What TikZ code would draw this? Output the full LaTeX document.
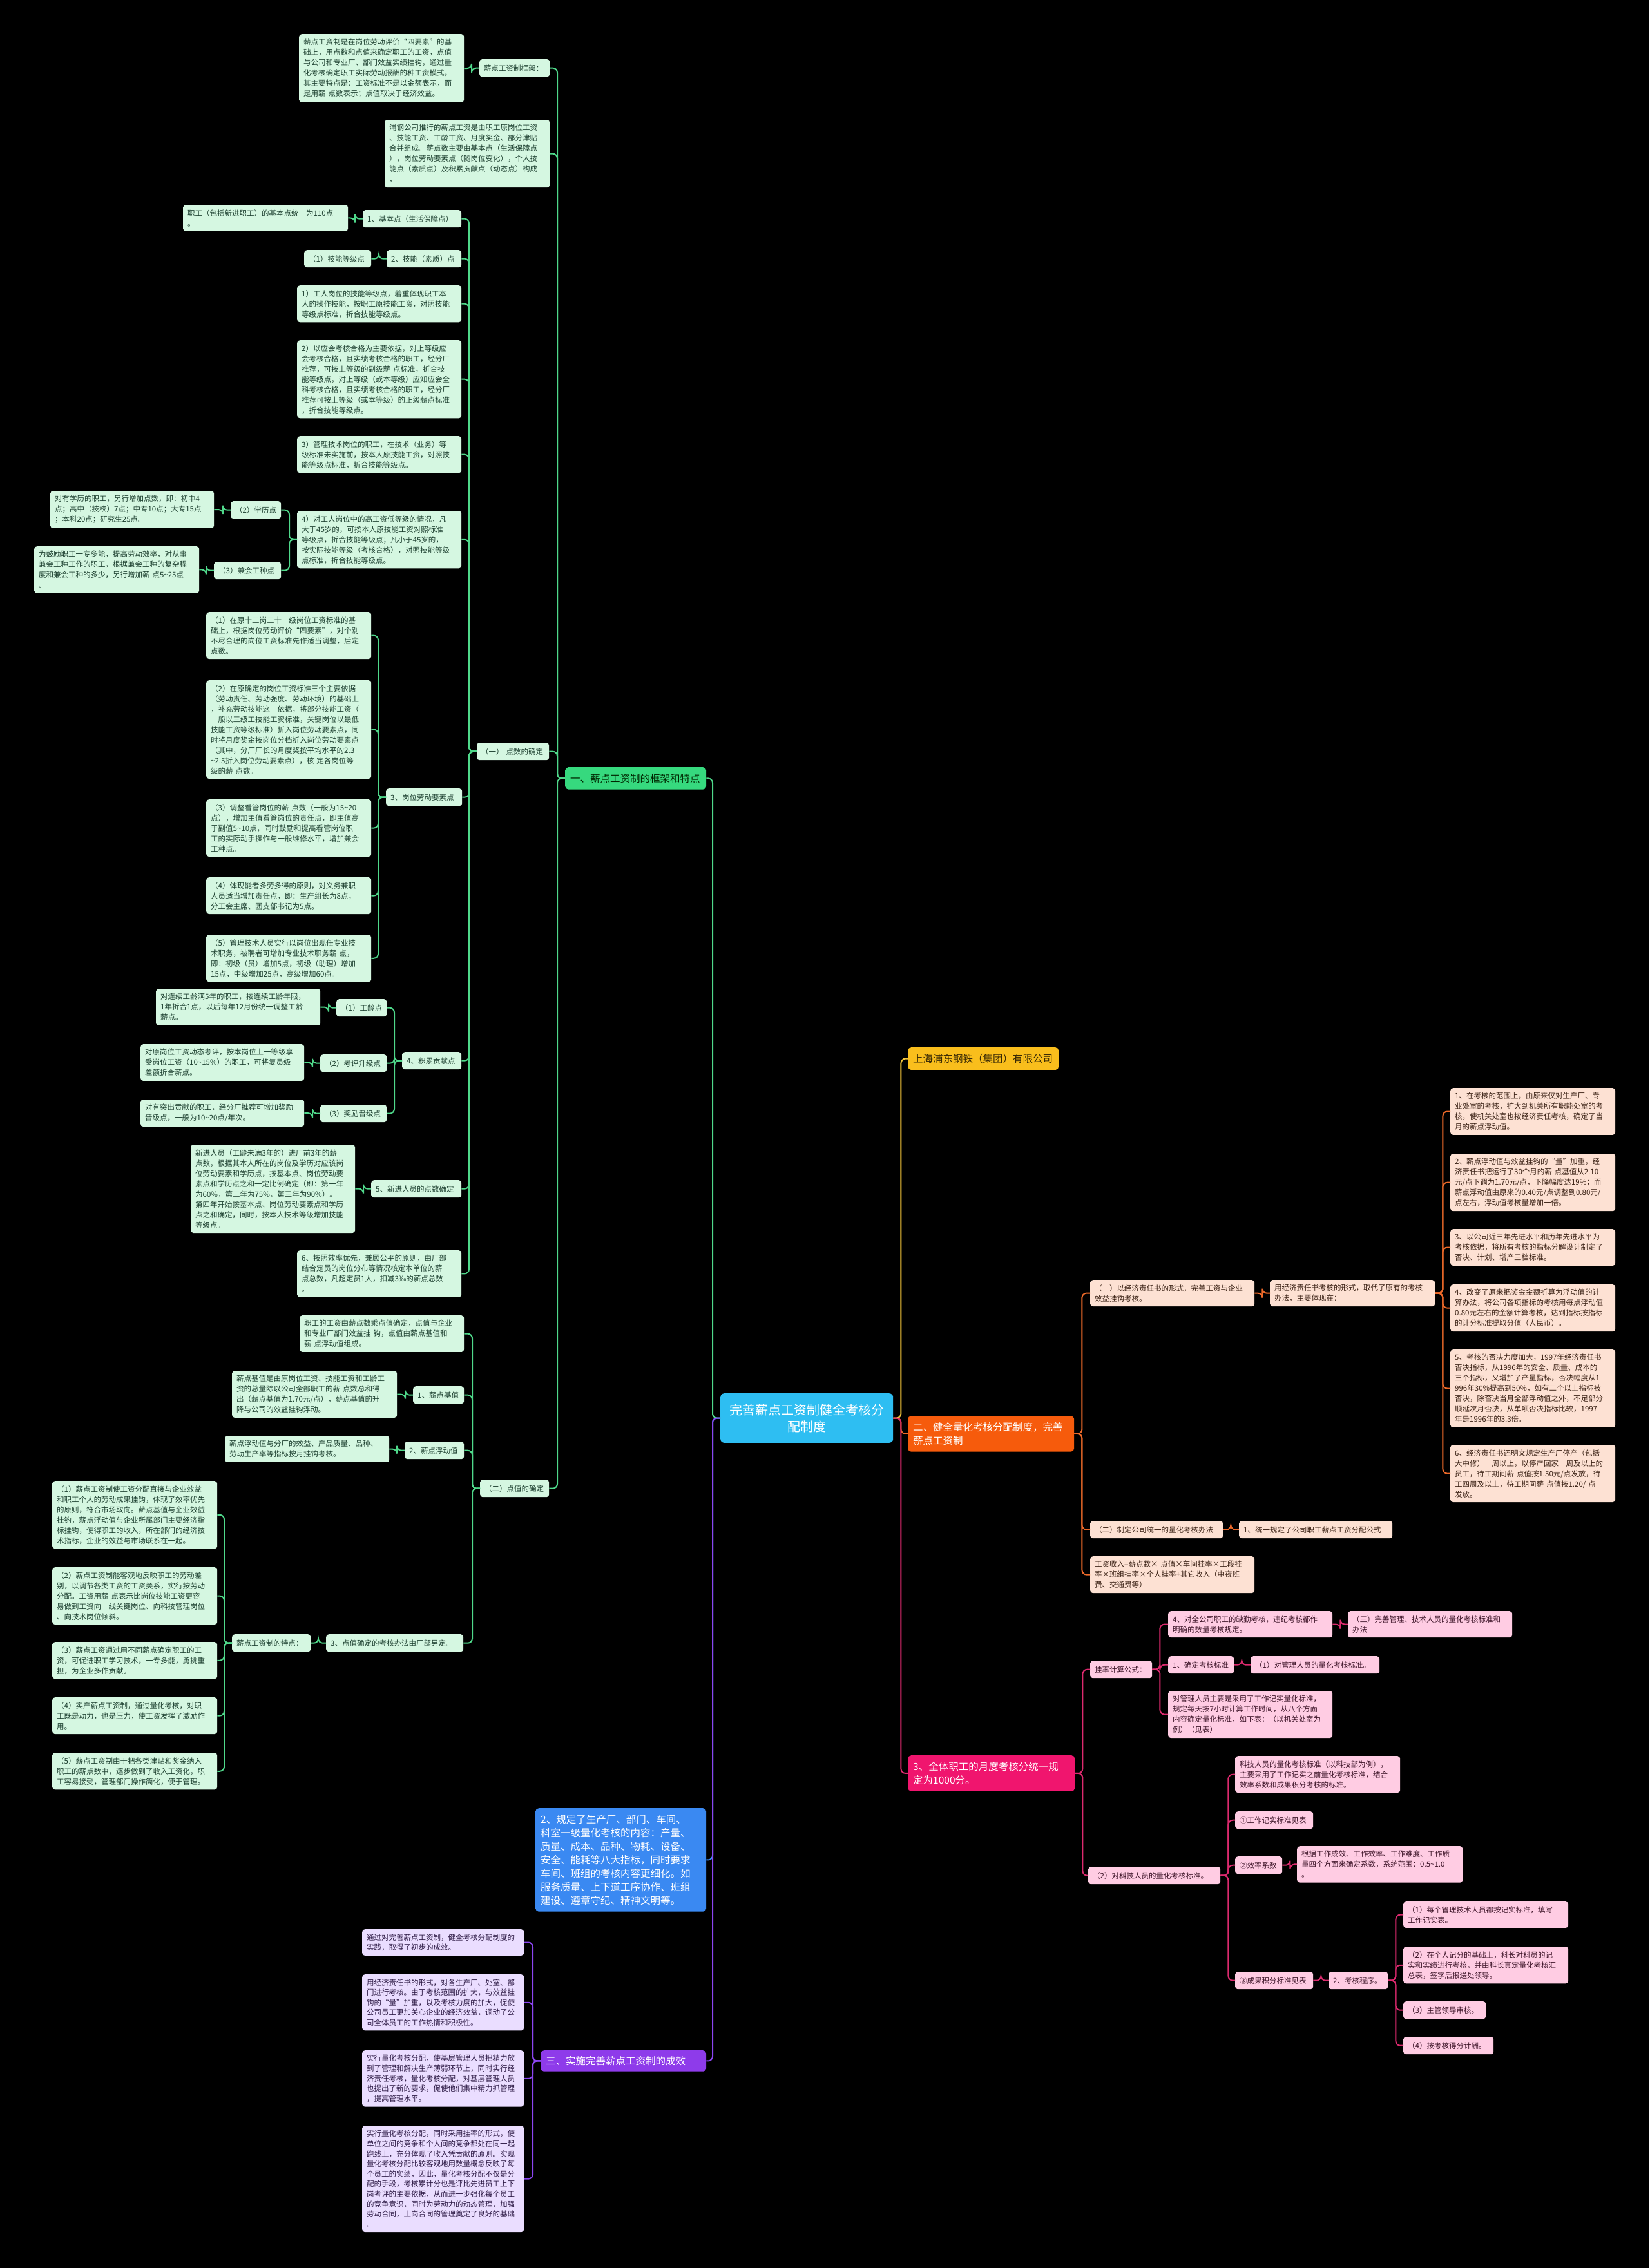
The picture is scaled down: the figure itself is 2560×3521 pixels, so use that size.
\documentclass[tikz,border=0pt]{standalone}
\usepackage{fontspec}
\setmainfont{Noto Sans CJK SC}
\newcommand\fs[2]{\fontsize{#1pt}{#2pt}\selectfont}
\newcommand\TD{\textasciitilde{}}
\newcommand\lkx[3]{\draw[#1] (#2.west) -- ++(-12,0) |- (#3.east);}
\newcommand\rkx[3]{\draw[#1] (#2.east) -- ++(12,0) |- (#3.west);}
\definecolor{gsub}{HTML}{D5F7E1}\definecolor{gtxt}{HTML}{1D4030}
\definecolor{gmain}{HTML}{36D97E}\definecolor{gln}{HTML}{4FD88A}
\definecolor{osub}{HTML}{FDE1D3}\definecolor{otxt}{HTML}{3B2215}
\definecolor{omain}{HTML}{F65B0C}\definecolor{oln}{HTML}{EE6A2A}
\definecolor{ymain}{HTML}{F9BE1C}\definecolor{ytxt}{HTML}{3A2A05}\definecolor{yln}{HTML}{F2C43A}
\definecolor{psub}{HTML}{FFCCE3}\definecolor{ptxt}{HTML}{3D1428}
\definecolor{pmain}{HTML}{F0156E}\definecolor{pln}{HTML}{DC2A6E}
\definecolor{vsub}{HTML}{EADDFF}\definecolor{vtxt}{HTML}{2D1A45}
\definecolor{vmain}{HTML}{8E3BEA}\definecolor{vln}{HTML}{8B45F0}
\definecolor{bmain}{HTML}{3A89F2}\definecolor{cmain}{HTML}{2EBEF2}
\tikzset{
 box/.style={rounded corners=4pt, inner xsep=7pt, inner ysep=7pt, align=left, anchor=north west, font=\fs{11.5}{16}},
 gs/.style={box, fill=gsub, text=gtxt}, gl/.style={gs, minimum height=27pt},
 os/.style={box, fill=osub, text=otxt}, ol/.style={os, minimum height=27pt},
 ps/.style={box, fill=psub, text=ptxt}, pl/.style={ps, minimum height=27pt},
 vs/.style={box, fill=vsub, text=vtxt, font=\fs{11.5}{15.6}},
 mainbox/.style={rounded corners=5pt, inner xsep=8pt, inner ysep=10pt, align=left, anchor=north west, font=\fs{15.5}{21}},
 cbox/.style={rounded corners=6pt, inner xsep=10pt, inner ysep=16pt, align=center, anchor=north west, font=\fs{20}{26}, fill=cmain, text=white},
 ln/.style={line width=2pt, rounded corners=7pt},
 gline/.style={ln, draw=gln}, oline/.style={ln, draw=oln}, yline/.style={ln, draw=yln},
 pline/.style={ln, draw=pln}, vline/.style={ln, draw=vln}, bline/.style={ln, draw=bmain}
}
\begin{document}
\begin{tikzpicture}[x=1pt,y=-1pt]
\useasboundingbox (0,0) rectangle (2560,3521);
\fill[black] (0,0) rectangle (2560,3521);
% ---------- center ----------
\node[cbox, text width=248pt] (C) at (1118,2163) {完善薪点工资制健全考核分\\配制度};
% ---------- green branch ----------
\node[mainbox, fill=gmain, text=black!85!green, text width=203pt] (G1) at (877,1191) {一、薪点工资制的框架和特点};
\node[gl, text width=95pt] (a1) at (744,92) {薪点工资制框架：};
\node[gs, text width=242pt] (a1n) at (464,53) {薪点工资制是在岗位劳动评价“四要素”的基\\础上，用点数和点值来确定职工的工资，点值\\与公司和专业厂、部门效益实绩挂钩，通过量\\化考核确定职工实际劳动报酬的种工资模式，\\其主要特点是：工资标准不是以金额表示，而\\是用薪~点数表示；点值取决于经济效益。};
\node[gs, text width=242pt] (a2) at (597,186) {浦钢公司推行的薪点工资是由职工原岗位工资\\、技能工资、工龄工资、月度奖金、部分津贴\\合并组成。薪点数主要由基本点（生活保障点\\），岗位劳动要素点（随岗位变化），个人技\\能点（素质点）及积累贡献点（动态点）构成\\，};
\node[gl, text width=98pt] (b) at (740,1153) {（一）~点数的确定};
\node[gl, text width=93pt] (c) at (745,2297) {（二）点值的确定};
% (一)
\node[gl, text width=139pt] (b1) at (563,326) {1、基本点（生活保障点）};
\node[gs, text width=242pt] (b1n) at (284,318) {职工（包括新进职工）的基本点统一为110点\\。};
\node[gl, text width=102pt] (b2) at (600,388) {2、技能（素质）点};
\node[gl, text width=90pt] (b2n) at (472,388) {（1）技能等级点};
\node[gs, text width=241pt] (b3) at (461,443) {1）工人岗位的技能等级点，着重体现职工本\\人的操作技能，按职工原技能工资，对照技能\\等级点标准，折合技能等级点。};
\node[gs, text width=241pt] (b4) at (461,528) {2）以应会考核合格为主要依据，对上等级应\\会考核合格，且实绩考核合格的职工，经分厂\\推荐，可按上等级的副级薪~点标准，折合技\\能等级点，对上等级（或本等级）应知应会全\\科考核合格，且实绩考核合格的职工，经分厂\\推荐可按上等级（或本等级）的正级薪点标准\\，折合技能等级点。};
\node[gs, text width=241pt] (b5) at (461,677) {3）管理技术岗位的职工，在技术（业务）等\\级标准未实施前，按本人原技能工资，对照技\\能等级点标准，折合技能等级点。};
\node[gs, text width=241pt] (b6) at (461,793) {4）对工人岗位中的高工资低等级的情况，凡\\大于45岁的，可按本人原技能工资对照标准\\等级点，折合技能等级点；凡小于45岁的，\\按实际技能等级（考核合格），对照技能等级\\点标准，折合技能等级点。};
\node[gl, text width=64pt] (b6a) at (358,778) {（2）学历点};
\node[gs, text width=240pt] (b6an) at (78,762) {对有学历的职工，另行增加点数，即：初中4\\点；高中（技校）7点；中专10点；大专15点\\；本科20点；研究生25点。};
\node[gl, text width=90pt] (b6b) at (332,872) {（3）兼会工种点};
\node[gs, text width=242pt] (b6bn) at (53,848) {为鼓励职工一专多能，提高劳动效率，对从事\\兼会工种工作的职工，根据兼会工种的复杂程\\度和兼会工种的多少，另行增加薪~点5\TD25点\\。};
\node[gl, text width=104pt] (b7) at (599,1224) {3、岗位劳动要素点};
\node[gs, text width=242pt] (b7a) at (320,950) {（1）在原十二岗二十一级岗位工资标准的基\\础上，根据岗位劳动评价“四要素”，对个别\\不尽合理的岗位工资标准先作适当调整，后定\\点数。};
\node[gs, text width=242pt] (b7b) at (320,1056) {（2）在原确定的岗位工资标准三个主要依据\\（劳动责任、劳动强度、劳动环境）的基础上\\，补充劳动技能这一依据，将部分技能工资（\\一般以三级工技能工资标准，关键岗位以最低\\技能工资等级标准）折入岗位劳动要素点，同\\时将月度奖金按岗位分档折入岗位劳动要素点\\（其中，分厂厂长的月度奖按平均水平的2.3\\\TD2.5折入岗位劳动要素点），核~定各岗位等\\级的薪~点数。};
\node[gs, text width=242pt] (b7c) at (320,1241) {（3）调整看管岗位的薪~点数（一般为15\TD20\\点），增加主值看管岗位的责任点，即主值高\\于副值5\TD10点，同时鼓励和提高看管岗位职\\工的实际动手操作与一般维修水平，增加兼会\\工种点。};
\node[gs, text width=242pt] (b7d) at (320,1362) {（4）体现能者多劳多得的原则，对义务兼职\\人员适当增加责任点，即：生产组长为8点，\\分工会主席、团支部书记为5点。};
\node[gs, text width=242pt] (b7e) at (320,1451) {（5）管理技术人员实行以岗位出现任专业技\\术职务，被聘者可增加专业技术职务薪~点，\\即：初级（员）增加5点，初级（助理）增加\\15点，中级增加25点，高级增加60点。};
\node[gl, text width=78pt] (b8) at (624,1633) {4、积累贡献点};
\node[gl, text width=64pt] (b8a) at (522,1551) {（1）工龄点};
\node[gs, text width=241pt] (b8an) at (242,1535) {对连续工龄满5年的职工，按连续工龄年限，\\1年折合1点，以后每年12月份统一调整工龄\\薪点。};
\node[gl, text width=89pt] (b8b) at (497,1637) {（2）考评升级点};
\node[gs, text width=240pt] (b8bn) at (218,1621) {对原岗位工资动态考评，按本岗位上一等级享\\受岗位工资（10\TD15\%）的职工，可将复员级\\差额折合薪点。};
\node[gl, text width=89pt] (b8c) at (497,1715) {（3）奖励晋级点};
\node[gs, text width=240pt] (b8cn) at (218,1707) {对有突出贡献的职工，经分厂推荐可增加奖励\\晋级点，一般为10\TD20点/年次。};
\node[gl, text width=126pt] (b9) at (576,1832) {5、新进人员的点数确定};
\node[gs, text width=241pt] (b9n) at (296,1777) {新进人员（工龄未满3年的）进厂前3年的薪\\点数，根据其本人所在的岗位及学历对应该岗\\位劳动要素和学历点，按基本点、岗位劳动要\\素点和学历点之和一定比例确定（即：第一年\\为60\%，第二年为75\%，第三年为90\%）。\\第四年开始按基本点、岗位劳动要素点和学历\\点之和确定，同时，按本人技术等级增加技能\\等级点。};
\node[gs, text width=241pt] (b10) at (461,1941) {6、按照效率优先，兼顾公平的原则，由厂部\\结合定员的岗位分布等情况核定本单位的薪\\点总数，凡超定员1人，扣减3‰的薪点总数\\。};
% (二)
\node[gs, text width=241pt] (c1) at (465,2042) {职工的工资由薪点数乘点值确定，点值与企业\\和专业厂部门效益挂~钩，点值由薪点基值和\\薪~点浮动值组成。};
\node[gl, text width=65pt] (c2) at (641,2152) {1、薪点基值};
\node[gs, text width=242pt] (c2n) at (360,2128) {薪点基值是由原岗位工资、技能工资和工龄工\\资的总量除以公司全部职工的薪~点数总和得\\出（薪点基值为1.70元/点），薪点基值的升\\降与公司的效益挂钩浮动。};
\node[gl, text width=78pt] (c3) at (628,2238) {2、薪点浮动值};
\node[gs, text width=241pt] (c3n) at (349,2229) {薪点浮动值与分厂的效益、产品质量、品种、\\劳动生产率等指标按月挂钩考核。};
\node[gl, text width=199pt] (c4) at (506,2537) {3、点值确定的考核办法由厂部另定。};
\node[gl, text width=108pt] (c5) at (360,2537) {薪点工资制的特点：};
\node[gs, text width=242pt] (c5a) at (81,2299) {（1）薪点工资制使工资分配直接与企业效益\\和职工个人的劳动成果挂钩，体现了效率优先\\的原则，符合市场取向。薪点基值与企业效益\\挂钩，薪点浮动值与企业所属部门主要经济指\\标挂钩，使得职工的收入，所在部门的经济技\\术指标，企业的效益与市场联系在一起。};
\node[gs, text width=242pt] (c5b) at (81,2433) {（2）薪点工资制能客观地反映职工的劳动差\\别，以调节各类工资的工资关系，实行按劳动\\分配。工资用薪~点表示比岗位技能工资更容\\易做到工资向一线关键岗位、向科技管理岗位\\、向技术岗位倾斜。};
\node[gs, text width=242pt] (c5c) at (81,2549) {（3）薪点工资通过用不同薪点确定职工的工\\资，可促进职工学习技术，一专多能，勇挑重\\担，为企业多作贡献。};
\node[gs, text width=242pt] (c5d) at (81,2635) {（4）实产薪点工资制，通过量化考核，对职\\工既是动力，也是压力，使工资发挥了激励作\\用。};
\node[gs, text width=242pt] (c5e) at (81,2721) {（5）薪点工资制由于把各类津贴和奖金纳入\\职工的薪点数中，逐步做到了收入工资化，职\\工容易接受，管理部门操作简化，便于管理。};
% ---------- blue branch ----------
\node[mainbox, fill=bmain, text=white, text width=249pt] (bl) at (831,2807) {2、规定了生产厂、部门、车间、\\科室一级量化考核的内容：产量、\\质量、成本、品种、物耗、设备、\\安全、能耗等八大指标，同时要求\\车间、班组的考核内容更细化。如\\服务质量、上下道工序协作、班组\\建设、遵章守纪、精神文明等。};
% ---------- purple branch ----------
\node[mainbox, fill=vmain, text=white, text width=241pt, inner ysep=9pt] (P) at (839,3183) {三、实施完善薪点工资制的成效};
\node[vs, text width=237pt] (p1) at (562,2995) {通过对完善薪点工资制，健全考核分配制度的\\实践，取得了初步的成效。};
\node[vs, text width=237pt] (p2) at (562,3065) {用经济责任书的形式，对各生产厂、处室、部\\门进行考核。由于考核范围的扩大，与效益挂\\钩的“量”加重，以及考核力度的加大，促使\\公司员工更加关心企业的经济效益，调动了公\\司全体员工的工作热情和积极性。};
\node[vs, text width=237pt] (p3) at (562,3183) {实行量化考核分配，使基层管理人员把精力放\\到了管理和解决生产薄弱环节上，同时实行经\\济责任考核，量化考核分配，对基层管理人员\\也提出了新的要求，促使他们集中精力抓管理\\，提高管理水平。};
\node[vs, text width=237pt] (p4) at (562,3300) {实行量化考核分配，同时采用挂率的形式，使\\单位之间的竞争和个人间的竞争都处在同一起\\跑线上，充分体现了收入凭贡献的原则。实现\\量化考核分配比较客观地用数量概念反映了每\\个员工的实绩，因此，量化考核分配不仅是分\\配的手段，考核累计分也是评比先进员工上下\\岗考评的主要依据，从而进一步强化每个员工\\的竞争意识，同时为劳动力的动态管理，加强\\劳动合同，上岗合同的管理奠定了良好的基础\\。};
% ---------- yellow branch ----------
\node[mainbox, fill=ymain, text=ytxt, text width=218pt, inner ysep=10pt] (Y) at (1409,1626) {上海浦东钢铁（集团）有限公司};
% ---------- orange branch ----------
\node[mainbox, fill=omain, text=white, text width=242pt] (O) at (1409,2198) {二、健全量化考核分配制度，完善\\薪点工资制};
\node[os, text width=241pt] (o1) at (1692,1987) {（一）以经济责任书的形式，完善工资与企业\\效益挂钩考核。};
\node[os, text width=242pt] (o1a) at (1971,1987) {用经济责任书考核的形式，取代了原有的考核\\办法，主要体现在：};
\node[os, text width=242pt] (o1a1) at (2251,1689) {1、在考核的范围上，由原来仅对生产厂、专\\业处室的考核，扩大到机关所有职能处室的考\\核，使机关处室也按经济责任考核，确定了当\\月的薪点浮动值。};
\node[os, text width=242pt] (o1a2) at (2251,1791) {2、薪点浮动值与效益挂钩的“量”加重，经\\济责任书把运行了30个月的薪~点基值从2.10\\元/点下调为1.70元/点，下降幅度达19\%；而\\薪点浮动值由原来的0.40元/点调整到0.80元/\\点左右，浮动值考核量增加一倍。};
\node[os, text width=242pt] (o1a3) at (2251,1908) {3、以公司近三年先进水平和历年先进水平为\\考核依据，将所有考核的指标分解设计制定了\\否决、计划、增产三档标准。};
\node[os, text width=242pt] (o1a4) at (2251,1994) {4、改变了原来把奖金金额折算为浮动值的计\\算办法，将公司各项指标的考核用每点浮动值\\0.80元左右的金额计算考核，达到指标按指标\\的计分标准提取分值（人民币）。};
\node[os, text width=242pt] (o1a5) at (2251,2095) {5、考核的否决力度加大，1997年经济责任书\\否决指标，从1996年的安全、质量、成本的\\三个指标，又增加了产量指标，否决幅度从1\\996年30\%提高到50\%，如有二个以上指标被\\否决，除否决当月全部浮动值之外，不足部分\\顺延次月否决，从单项否决指标比较，1997\\年是1996年的3.3倍。};
\node[os, text width=242pt] (o1a6) at (2251,2243) {6、经济责任书还明文规定生产厂停产（包括\\大中修）一周以上，以停产回家一周及以上的\\员工，待工期间薪~点值按1.50元/点发放，待\\工四周及以上，待工期间薪~点值按1.20/~点\\发放。};
\node[ol, text width=192pt] (o2) at (1692,2361) {（二）制定公司统一的量化考核办法};
\node[ol, text width=224pt] (o2a) at (1923,2361) {1、统一规定了公司职工薪点工资分配公式};
\node[os, text width=241pt] (o3) at (1692,2416) {工资收入=薪点数×~点值×车间挂率×工段挂\\率×班组挂率×个人挂率+其它收入（中夜班\\费、交通费等）};
% ---------- pink branch ----------
\node[mainbox, fill=pmain, text=white, text width=243pt] (K) at (1409,2725) {3、全体职工的月度考核分统一规\\定为1000分。};
\node[pl, text width=82pt] (k1) at (1692,2578) {挂率计算公式：};
\node[ps, text width=241pt] (k1a) at (1813,2501) {4、对全公司职工的缺勤考核，违纪考核都作\\明确的数量考核规定。};
\node[ps, text width=241pt] (k1aa) at (2092,2501) {（三）完善管理、技术人员的量化考核标准和\\办法};
\node[pl, text width=88pt] (k1b) at (1813,2571) {1、确定考核标准};
\node[pl, text width=186pt] (k1ba) at (1941,2571) {（1）对管理人员的量化考核标准。};
\node[ps, text width=241pt] (k1c) at (1813,2625) {对管理人员主要是采用了工作记实量化标准，\\规定每天按7小时计算工作时间，从八个方面\\内容确定量化标准，如下表：（以机关处室为\\例）（见表）};
\node[pl, text width=191pt] (k2) at (1689,2898) {（2）对科技人员的量化考核标准。};
\node[ps, text width=242pt] (k2a) at (1917,2726) {科技人员的量化考核标准（以科技部为例），\\主要采用了工作记实之前量化考核标准，结合\\效率系数和成果积分考核的标准。};
\node[pl, text width=107pt] (k2b) at (1917,2812) {①工作记实标准见表};
\node[pl, text width=59pt] (k2c) at (1917,2882) {②效率系数};
\node[ps, text width=243pt] (k2ca) at (2013,2866) {根据工作成效、工作效率、工作难度、工作质\\量四个方面来确定系数，系统范围：0.5\TD1.0\\。};
\node[pl, text width=107pt] (k2d) at (1917,3061) {③成果积分标准见表};
\node[pl, text width=78pt] (k2da) at (2062,3061) {2、考核程序。};
\node[ps, text width=242pt] (k2da1) at (2178,2952) {（1）每个管理技术人员都按记实标准，填写\\工作记实表。};
\node[ps, text width=242pt] (k2da2) at (2178,3022) {（2）在个人记分的基础上，科长对科员的记\\实和实绩进行考核，并由科长真定量化考核汇\\总表，签字后报送处领导。};
\node[pl, text width=114pt] (k2da3) at (2178,3107) {（3）主管领导审核。};
\node[pl, text width=126pt] (k2da4) at (2178,3162) {（4）按考核得分计酬。};
% ---------- connectors ----------
\lkx{gline}{C}{G1}
\lkx{bline}{C}{bl}
\lkx{vline}{C}{P}
\rkx{yline}{C}{Y}
\rkx{oline}{C}{O}
\rkx{pline}{C}{K}
\foreach \n in {a1,a2,b,c} {\lkx{gline}{G1}{\n}}
\lkx{gline}{a1}{a1n}
\foreach \n in {b1,b2,b3,b4,b5,b6,b7,b8,b9,b10} {\lkx{gline}{b}{\n}}
\lkx{gline}{b1}{b1n}
\lkx{gline}{b2}{b2n}
\lkx{gline}{b6}{b6a}
\lkx{gline}{b6}{b6b}
\lkx{gline}{b6a}{b6an}
\lkx{gline}{b6b}{b6bn}
\foreach \n in {b7a,b7b,b7c,b7d,b7e} {\lkx{gline}{b7}{\n}}
\foreach \n in {b8a,b8b,b8c} {\lkx{gline}{b8}{\n}}
\lkx{gline}{b8a}{b8an}
\lkx{gline}{b8b}{b8bn}
\lkx{gline}{b8c}{b8cn}
\lkx{gline}{b9}{b9n}
\foreach \n in {c1,c2,c3,c4} {\lkx{gline}{c}{\n}}
\lkx{gline}{c2}{c2n}
\lkx{gline}{c3}{c3n}
\lkx{gline}{c4}{c5}
\foreach \n in {c5a,c5b,c5c,c5d,c5e} {\lkx{gline}{c5}{\n}}
\foreach \n in {p1,p2,p3,p4} {\lkx{vline}{P}{\n}}
\foreach \n in {o1,o2,o3} {\rkx{oline}{O}{\n}}
\rkx{oline}{o1}{o1a}
\foreach \n in {o1a1,o1a2,o1a3,o1a4,o1a5,o1a6} {\rkx{oline}{o1a}{\n}}
\rkx{oline}{o2}{o2a}
\rkx{pline}{K}{k1}
\rkx{pline}{K}{k2}
\foreach \n in {k1a,k1b,k1c} {\rkx{pline}{k1}{\n}}
\rkx{pline}{k1a}{k1aa}
\rkx{pline}{k1b}{k1ba}
\foreach \n in {k2a,k2b,k2c,k2d} {\rkx{pline}{k2}{\n}}
\rkx{pline}{k2c}{k2ca}
\rkx{pline}{k2d}{k2da}
\foreach \n in {k2da1,k2da2,k2da3,k2da4} {\rkx{pline}{k2da}{\n}}
\end{tikzpicture}
\end{document}
